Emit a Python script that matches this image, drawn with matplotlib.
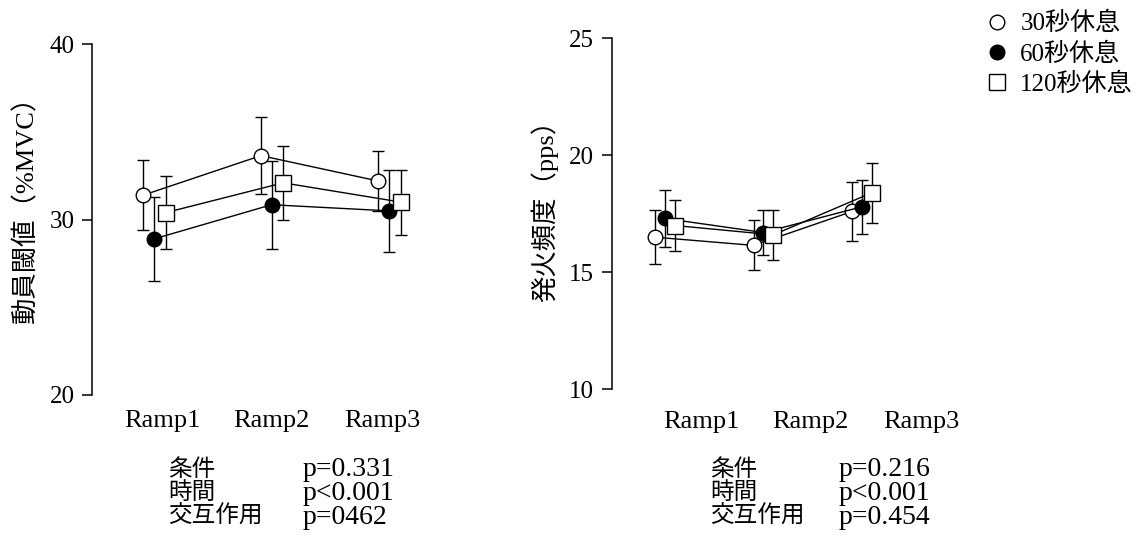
import matplotlib
matplotlib.use('Agg')
import matplotlib.pyplot as plt
from matplotlib.lines import Line2D

plt.rcParams['font.family'] = ['Liberation Serif', 'Noto Sans CJK JP']

# group labels and rest conditions
ramps = ['Ramp1', 'Ramp2', 'Ramp3']
conditions = ['30秒休息', '60秒休息', '120秒休息']

# recruitment threshold (%MVC), mean and SD
thr_30 = [31.4, 33.65, 32.2]
thr_30_sd = [2.0, 2.2, 1.7]
thr_60 = [28.9, 30.85, 30.5]
thr_60_sd = [2.4, 2.5, 2.35]
thr_120 = [30.4, 32.1, 31.0]
thr_120_sd = [2.1, 2.1, 1.85]

# firing rate (pps), mean and SD
fr_30 = [16.5, 16.15, 17.6]
fr_30_sd = [1.15, 1.07, 1.27]
fr_60 = [17.3, 16.7, 17.8]
fr_60_sd = [1.2, 0.95, 1.15]
fr_120 = [17.0, 16.6, 18.4]
fr_120_sd = [1.1, 1.07, 1.28]

# ANOVA results
stat_names = ['条件', '時間', '交互作用']
thr_p = ['p=0.331', 'p<0.001', 'p=0462']
fr_p = ['p=0.216', 'p<0.001', 'p=0.454']

W, H = 1143, 538
fig = plt.figure(figsize=(W / 100, H / 100), dpi=100)

styles = [dict(marker='o', mfc='white', ms=10.5),
          dict(marker='o', mfc='black', ms=10.5),
          dict(marker='s', mfc='white', ms=11)]


def draw_panel(ax, series, sds, offsets, ylim, yticks, ylabel, tickpos, pad, labelpos):
    for s, sd, off, st in zip(series, sds, offsets, styles):
        xs = [i + 1 + off for i in range(len(s))]
        ax.errorbar(xs, s, yerr=sd, color='black', lw=1, elinewidth=1,
                    capsize=4, capthick=1, mec='black', mew=1, zorder=3, **st)
    ax.set_ylim(*ylim)
    ax.set_yticks(yticks)
    ax.set_ylabel(ylabel, fontsize=19)
    ax.yaxis.set_label_coords(*labelpos)
    ax.set_xticks(tickpos)
    ax.set_xticklabels(ramps, fontsize=19)
    for sp in ['top', 'right', 'bottom']:
        ax.spines[sp].set_visible(False)
    ax.spines['left'].set_linewidth(1.1)
    ax.tick_params(axis='y', length=7.5, width=1.1, pad=5, labelsize=18)
    ax.tick_params(axis='x', length=0, pad=pad)


# left panel: recruitment threshold
ax1 = fig.add_axes([92 / W, 0.2658, 355.75 / W, 0.6519])
ax1.set_xlim(0.472, 3.5)
draw_panel(ax1, [thr_30, thr_60, thr_120], [thr_30_sd, thr_60_sd, thr_120_sd],
           [-0.09, 0, 0.1], (20, 40), [20, 30, 40], '動員閾値（%MVC）',
           [1.07, 2.0, 2.94], 11, (-0.15, 0.547))

# right panel: firing rate
ax2 = fig.add_axes([611.7 / W, 0.2764, 319.2 / W, 0.6524])
ax2.set_xlim(0.459, 3.7)
draw_panel(ax2, [fr_30, fr_60, fr_120], [fr_30_sd, fr_60_sd, fr_120_sd],
           [-0.1, 0, 0.1], (10, 25), [10, 15, 20, 25], '発火頻度（pps）',
           [1.365, 2.48, 3.6], 15.5, (-0.166, 0.528))

# legend
handles = [Line2D([], [], ls='none', color='black', mec='black', mew=1, **st)
           for st in styles]
fig.legend(handles, conditions, loc='upper left',
           bbox_to_anchor=(984 / W, 1 - 12 / H), frameon=False, fontsize=18,
           handlelength=1.0, handletextpad=0.45, labelspacing=0.28,
           borderpad=0, borderaxespad=0)

# statistics under each panel
row_y = [470, 493, 517]
for (xl, xp, ps) in [(168, 303, thr_p), (710, 839, fr_p)]:
    for name, p, y in zip(stat_names, ps, row_y):
        fig.text(xl / W, 1 - y / H, name, fontsize=17, va='center', ha='left')
        fig.text(xp / W, 1 - y / H, p, fontsize=20, va='center', ha='left')

fig.savefig('out.png', dpi=100)
